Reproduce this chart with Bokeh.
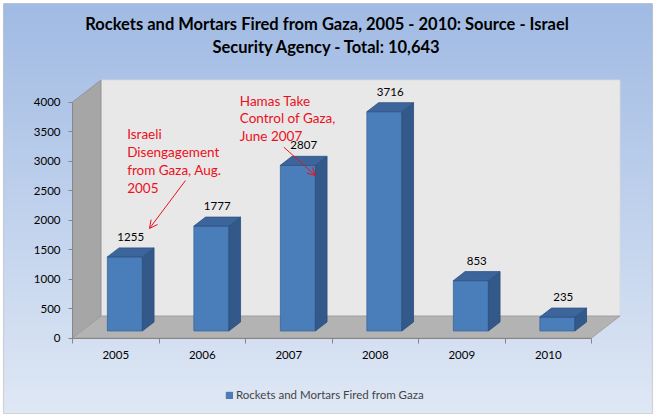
import numpy as np
from bokeh.plotting import figure
from bokeh.models import (Range1d, FixedTicker, LinearAxis, Label, Arrow, OpenHead,
                          Legend, LegendItem, BoxAnnotation)
from bokeh.embed import file_html
from bokeh.resources import INLINE
from bokeh.core.properties import value

# ---------------- data ----------------
years = ["2005", "2006", "2007", "2008", "2009", "2010"]
counts = [1255, 1777, 2807, 3716, 853, 235]
series_name = "Rockets and Mortars Fired from Gaza"
title_lines = ["Rockets and Mortars Fired from Gaza, 2005 - 2010: Source - Israel",
               "Security Agency - Total: 10,643"]
y_ticks = [0, 500, 1000, 1500, 2000, 2500, 3000, 3500, 4000]
note1_lines = ["Israeli", "Disengagement", "from Gaza, Aug.", "2005"]
note2_lines = ["Hamas Take", "Control of Gaza,", "June 2007"]

# ---------------- layout / style ----------------
W, H = 657, 418
X0, Y0 = 72.0, 337.5          # front-plane origin in pixels (left edge of first category, value 0)
CAT_PX = 86.5                 # pixels per category
VAL_PX = 0.059                # pixels per unit of value
DX = 28.5 / CAT_PX            # depth of the 3-D box (x, data units)
DY = 22.0 / VAL_PX            # depth of the 3-D box (y, data units)
F, T = 0.32, 0.41             # bar front depth fraction, bar thickness fraction
BW = 35.0 / CAT_PX            # bar width
RED = "#ec0f1c"
FONT = "Lato"
n = len(counts)
ymax = y_ticks[-1]


def px2x(px):
    return (px - X0) / CAT_PX - 0.5


def py2y(py):
    return (Y0 - py) / VAL_PX


x_start, x_end = px2x(0), px2x(W)
y_start, y_end = py2y(H), py2y(0)

p = figure(width=W, height=H, output_backend="svg", toolbar_location=None, title=None,
           x_range=Range1d(x_start, x_end), y_range=Range1d(y_start, y_end),
           x_axis_location=None, y_axis_location=None, min_border=0)
p.xgrid.visible = False
p.ygrid.visible = False
p.outline_line_color = None
p.border_fill_color = "white"
p.background_fill_color = "white"

# background gradient inside the chart border
BL, BR, BT, BB = 3, 652, 3, 413
GH, GW = 160, 2
img = np.empty((GH, GW), dtype=np.uint32)
view = img.view(dtype=np.uint8).reshape((GH, GW, 4))
top_c = np.array([161, 187, 228], dtype=float)
bot_c = np.array([223, 232, 245], dtype=float)
tt = np.repeat(np.linspace(0, 1, GH)[:, None], GW, axis=1)   # 0 bottom .. 1 top
for k in range(3):
    view[:, :, k] = (bot_c[k] + (top_c[k] - bot_c[k]) * tt).astype(np.uint8)
view[:, :, 3] = 255
p.image_rgba(image=[img], x=px2x(BL), y=py2y(BB), dw=px2x(BR) - px2x(BL), dh=py2y(BT) - py2y(BB))
p.add_layout(BoxAnnotation(left=BL, right=BR, top=H - BT, bottom=H - BB,
                           left_units="screen", right_units="screen",
                           top_units="screen", bottom_units="screen",
                           fill_color=None, line_color="#8c8c8c", line_width=1.2))

# walls and floor
x_left, x_right = -0.5, n - 0.5
p.quad(left=x_left + DX, right=x_right + DX, bottom=DY, top=ymax + DY,
       fill_color="#e8e8e8", line_color="#d9d9d9", line_width=0.8)
p.patch(x=[x_left, x_left + DX, x_left + DX, x_left], y=[0, DY, ymax + DY, ymax],
        fill_color="#a6a6a6", line_color="#8e8e8e", line_width=0.8)
p.patch(x=[x_left, x_right, x_right + DX, x_left + DX], y=[0, 0, DY, DY],
        fill_color="#b3b3b3", line_color="#9a9a9a", line_width=0.8)

# 3-D bars
idx = np.arange(n)
cx = idx + F * DX
xl = cx - BW / 2
xr = cx + BW / 2
yb = np.full(n, F * DY)
yt = yb + np.array(counts, dtype=float)
dxb, dyb = T * DX, T * DY

front = p.quad(left=xl, right=xr, bottom=yb, top=yt,
               fill_color="#4a7ebb", line_color="#3a6699", line_width=0.8)
p.patches(xs=[[a, a + dxb, a + dxb, a] for a in xr],
          ys=[[b, b + dyb, t + dyb, t] for b, t in zip(yb, yt)],
          fill_color="#33598a", line_color="#2c4e7a", line_width=0.8)
p.patches(xs=[[l, r, r + dxb, l + dxb] for l, r in zip(xl, xr)],
          ys=[[t, t, t + dyb, t + dyb] for t in yt],
          fill_color="#3c659c", line_color="#2f5283", line_width=0.8)

# value labels
p.text(x=cx + dxb / 2, y=yt + dyb + 11 / VAL_PX, text=[str(c) for c in counts],
       text_align="center", text_baseline="middle", text_font=value(FONT),
       text_font_size="11.5px", text_color="black")

# axes
yax = LinearAxis(ticker=FixedTicker(ticks=y_ticks, minor_ticks=[]), fixed_location=x_left,
                 bounds=(0, ymax), axis_line_color="#868686", major_tick_line_color="#868686",
                 major_tick_out=4, major_tick_in=0, minor_tick_out=0, minor_tick_in=0,
                 major_label_standoff=8, major_label_text_font=FONT,
                 major_label_text_font_size="11.5px", major_label_text_color="black")
p.add_layout(yax, "left")

xax_ticks = LinearAxis(ticker=FixedTicker(ticks=[i - 0.5 for i in range(n + 1)], minor_ticks=[]),
                       fixed_location=0, bounds=(x_left, x_right), axis_line_color="#868686",
                       major_tick_line_color="#868686", major_tick_out=5, major_tick_in=0,
                       minor_tick_out=0, minor_tick_in=0, major_label_text_color=None)
p.add_layout(xax_ticks, "below")
xax_labels = LinearAxis(ticker=FixedTicker(ticks=list(range(n)), minor_ticks=[]),
                        fixed_location=0, axis_line_color=None, major_tick_line_color=None,
                        major_tick_out=0, major_tick_in=0, minor_tick_out=0, minor_tick_in=0,
                        major_label_overrides={i: years[i] for i in range(n)},
                        major_label_standoff=13, major_label_text_font=FONT,
                        major_label_text_font_size="11.5px", major_label_text_color="black")
p.add_layout(xax_labels, "below")

# title
for k, line in enumerate(title_lines):
    p.add_layout(Label(x=326.5, y=H - 23.5 - 23 * k, x_units="screen", y_units="screen", text=line,
                       text_align="center", text_baseline="middle", text_font=FONT,
                       text_font_style="bold", text_font_size="16.5px", text_color="black"))

# annotations
N1X, N1Y, LS1 = 0.132, 3461, 18
for k, line in enumerate(note1_lines):
    p.add_layout(Label(x=N1X, y=N1Y - k * LS1 / VAL_PX, text=line, text_align="left",
                       text_baseline="middle", text_font=FONT, text_font_size="13.5px",
                       text_color=RED))
N2X, N2Y, LS2 = 1.434, 4025, 17.5
for k, line in enumerate(note2_lines):
    p.add_layout(Label(x=N2X, y=N2Y - k * LS2 / VAL_PX, text=line, text_align="left",
                       text_baseline="middle", text_font=FONT, text_font_size="13.5px",
                       text_color=RED))
p.add_layout(Arrow(end=OpenHead(size=8, line_color=RED, line_width=1),
                   x_start=0.806, y_start=2669, x_end=0.390, y_end=1856,
                   line_color=RED, line_width=1))
p.add_layout(Arrow(end=OpenHead(size=8, line_color=RED, line_width=1),
                   x_start=1.943, y_start=3234, x_end=2.309, y_end=2754,
                   line_color=RED, line_width=1))

# legend
legend = Legend(items=[LegendItem(label=series_name, renderers=[front])],
                location=(225, 17), padding=0, margin=0, spacing=0,
                glyph_width=8, glyph_height=8, label_standoff=3,
                label_text_font=FONT, label_text_font_size="11.5px",
                background_fill_alpha=0, border_line_alpha=0)
p.add_layout(legend)

open("out.html", "w").write(file_html(p, INLINE))
